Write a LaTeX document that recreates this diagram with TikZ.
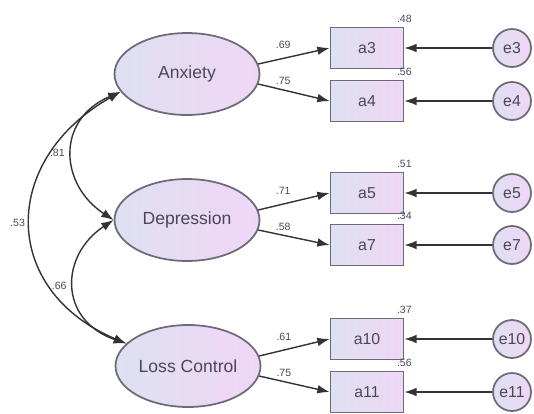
\documentclass[tikz,border=0pt]{standalone}
\usepackage{fontspec}
\setmainfont{Liberation Sans}
\usetikzlibrary{arrows.meta,shapes.geometric}
\definecolor{fillL}{RGB}{222,224,242}
\definecolor{fillR}{RGB}{240,214,246}
\definecolor{rim}{RGB}{110,107,120}
\definecolor{ink}{RGB}{75,70,90}
\definecolor{wire}{RGB}{50,50,55}
\tikzset{
  latent/.style={ellipse, draw=rim, line width=1pt, left color=fillL, right color=fillR,
    minimum width=2.9cm, minimum height=1.64cm, inner sep=0pt, text=ink,
    font=\fontsize{10}{12}\selectfont},
  observed/.style={rectangle, draw=rim, line width=1pt, left color=fillL, right color=fillR,
    minimum width=1.46cm, minimum height=0.82cm, text=ink, font=\fontsize{9}{11}\selectfont},
  errvar/.style={circle, draw=rim, line width=1pt, left color=fillL, right color=fillR,
    minimum size=0.76cm, inner sep=0pt, text=ink, font=\fontsize{9}{11}\selectfont},
  load/.style={draw=wire, line width=0.8pt, -{Latex[length=7pt,width=5pt]}},
  corr/.style={draw=wire, line width=0.8pt, {Latex[length=7pt,width=5pt]}-{Latex[length=7pt,width=5pt]}},
  coef/.style={font=\fontsize{6}{7}\selectfont, text=ink, inner sep=1pt},
}
\begin{document}
\begin{tikzpicture}[x=0.02cm, y=0.02cm]
  \useasboundingbox (0,0) rectangle (534,-413);
  % latent factors
  \node[latent] (Anx) at (187,-74) {Anxiety};
  \node[latent] (Dep) at (187,-220) {Depression};
  \node[latent] (LC) at (188,-366) {Loss Control};
  % items
  \node[observed] (a3) at (367,-48) {a3};
  \node[observed] (a4) at (367,-101) {a4};
  \node[observed] (a5) at (367,-193) {a5};
  \node[observed] (a7) at (367,-245) {a7};
  \node[observed] (a10) at (367,-339) {a10};
  \node[observed] (a11) at (367,-392) {a11};
  % errors
  \foreach \i/\yy in {3/-48, 4/-101, 5/-193, 7/-245, 10/-339, 11/-392} {
    \node[errvar] (e\i) at (512,\yy) {e\i};
    \path (e\i) edge[load] (a\i.east);
  }
  % squared multiple correlations
  \node[coef, anchor=south, yshift=1pt] (r3) at (a3.north east) {.48};
  \node[coef, anchor=south, yshift=1pt] (r4) at (a4.north east) {.56};
  \node[coef, anchor=south, yshift=1pt] (r5) at (a5.north east) {.51};
  \node[coef, anchor=south, yshift=1pt] (r7) at (a7.north east) {.34};
  \node[coef, anchor=south, yshift=1pt] (r10) at (a10.north east) {.37};
  \node[coef, anchor=south, yshift=1pt] (r11) at (a11.north east) {.56};
  % loadings
  \path (Anx.8) edge[load] node[coef, pos=0.35, above=4pt] {.69} (a3.west);
  \path (Anx.-8) edge[load] node[coef, pos=0.35, above=1.5pt] {.75} (a4.west);
  \path (Dep.8) edge[load] node[coef, pos=0.35, above=4pt] {.71} (a5.west);
  \path (Dep.-8) edge[load] node[coef, pos=0.35, above=1.5pt] {.58} (a7.west);
  \path (LC.8) edge[load] node[coef, pos=0.35, above=4pt] {.61} (a10.west);
  \path (LC.-8) edge[load] node[coef, pos=0.35, above=1.5pt] {.75} (a11.west);
  % correlations
  \draw[corr] (Anx.195) .. controls (55,-120) and (60,-185) .. node[coef, pos=0.5, left=3pt] {.81} (Dep.180);
  \draw[corr] (Anx.195) .. controls (0,-160) and (0,-290) .. node[coef, pos=0.5, left=2pt] {.53} (LC.160);
  \draw[corr] (Dep.180) .. controls (60,-255) and (58,-320) .. node[coef, pos=0.5, left=3pt] {.66} (LC.160);
\end{tikzpicture}
\end{document}
